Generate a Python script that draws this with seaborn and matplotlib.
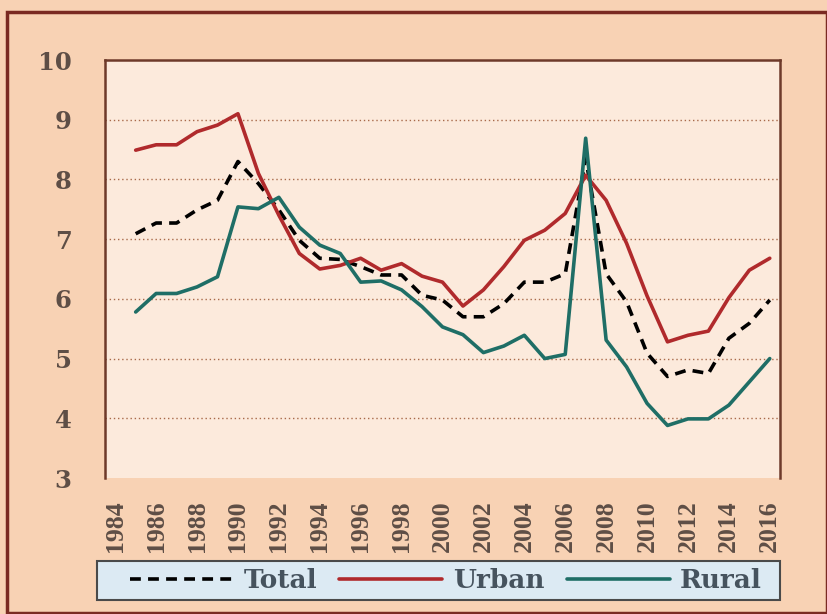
import numpy as np
import pandas as pd
import seaborn as sns
import matplotlib.pyplot as plt
from matplotlib.patches import Rectangle

years = list(range(1985, 2017))
total = [7.09, 7.27, 7.27, 7.49, 7.65, 8.30, 7.93, 7.49, 6.98, 6.68, 6.66, 6.54, 6.40, 6.40, 6.06, 5.98,
         5.70, 5.70, 5.92, 6.28, 6.28, 6.42, 8.35, 6.42, 5.95, 5.09, 4.70, 4.81, 4.75, 5.34, 5.59, 5.98]
urban = [8.49, 8.58, 8.58, 8.80, 8.91, 9.10, 8.10, 7.40, 6.76, 6.50, 6.56, 6.68, 6.48, 6.59, 6.38, 6.28,
         5.88, 6.15, 6.54, 6.98, 7.15, 7.43, 8.07, 7.65, 6.93, 6.05, 5.28, 5.39, 5.46, 6.02, 6.48, 6.68]
rural = [5.78, 6.09, 6.09, 6.20, 6.37, 7.54, 7.51, 7.70, 7.20, 6.90, 6.76, 6.28, 6.30, 6.15, 5.87, 5.53,
         5.40, 5.10, 5.21, 5.39, 5.00, 5.07, 8.69, 5.31, 4.86, 4.25, 3.88, 3.99, 3.99, 4.22, 4.61, 5.00]
tick_years = list(range(1984, 2017, 2))

df = pd.DataFrame({'year': years, 'Total': total, 'Urban': urban, 'Rural': rural})

sns.set_theme(style='white')
plt.rcParams['font.family'] = ['Liberation Serif', 'DejaVu Serif']

fig = plt.figure(figsize=(8.28, 6.14), dpi=100, facecolor='#F8D2B4')
ax = fig.add_axes([105/828, 1 - 478/614, 675/828, 418/614])
ax.set_facecolor('#FCEADC')

# outer frame + legend box
fig.patches.append(Rectangle((0.009, 0.002), 0.99, 0.978, transform=fig.transFigure,
                             fill=False, edgecolor='#7A2A22', linewidth=2.5))
fig.patches.append(Rectangle((97/828, 1 - 600/614), 683/828, 39/614, transform=fig.transFigure,
                             facecolor='#DCEAF3', edgecolor='#4A4A4A', linewidth=1.5))

sns.lineplot(data=df, x='year', y='Total', ax=ax, color='black', linewidth=2.6,
             linestyle=(0, (3, 2)), label='Total')
sns.lineplot(data=df, x='year', y='Urban', ax=ax, color='#B02A2C', linewidth=2.6, label='Urban')
sns.lineplot(data=df, x='year', y='Rural', ax=ax, color='#1F6E66', linewidth=2.6, label='Rural')

ax.set_xlim(1983.5, 2016.5)
ax.set_ylim(3, 10)
ax.set_yticks(range(3, 11))
ax.set_xticks(tick_years)
ax.set_xticklabels([str(y) for y in tick_years], rotation=90)
ax.set_xlabel('')
ax.set_ylabel('')
for y in range(4, 10):
    ax.axhline(y, color='#A86A4A', linestyle=(0, (1, 2)), linewidth=1.0, zorder=0)
ax.tick_params(axis='both', length=0, labelcolor='#5E4E46')
ax.tick_params(axis='y', pad=24, labelsize=17.5)
ax.tick_params(axis='x', pad=16, labelsize=18.5)
for lab in ax.get_yticklabels():
    lab.set_fontweight('bold')
    lab.set_family('DejaVu Serif')
for lab in ax.get_xticklabels():
    lab.set_fontweight('bold')

for side in ['left', 'right', 'top']:
    ax.spines[side].set_color('#6E3A2A')
    ax.spines[side].set_linewidth(1.8)
ax.spines['bottom'].set_visible(False)

ax.get_legend().remove()
handles, labels = ax.get_legend_handles_labels()
leg = fig.legend(handles, labels, loc='center', ncol=3, mode='expand',
                 bbox_to_anchor=(130/828, 1 - 600/614, 632/828, 39/614),
                 frameon=False, handlelength=3.9, borderaxespad=0, borderpad=0,
                 prop={'size': 19, 'weight': 'bold', 'family': 'DejaVu Serif'},
                 handletextpad=0.4)
for t in leg.get_texts():
    t.set_color('#46535E')

fig.savefig('out.png', dpi=100, facecolor=fig.get_facecolor())
